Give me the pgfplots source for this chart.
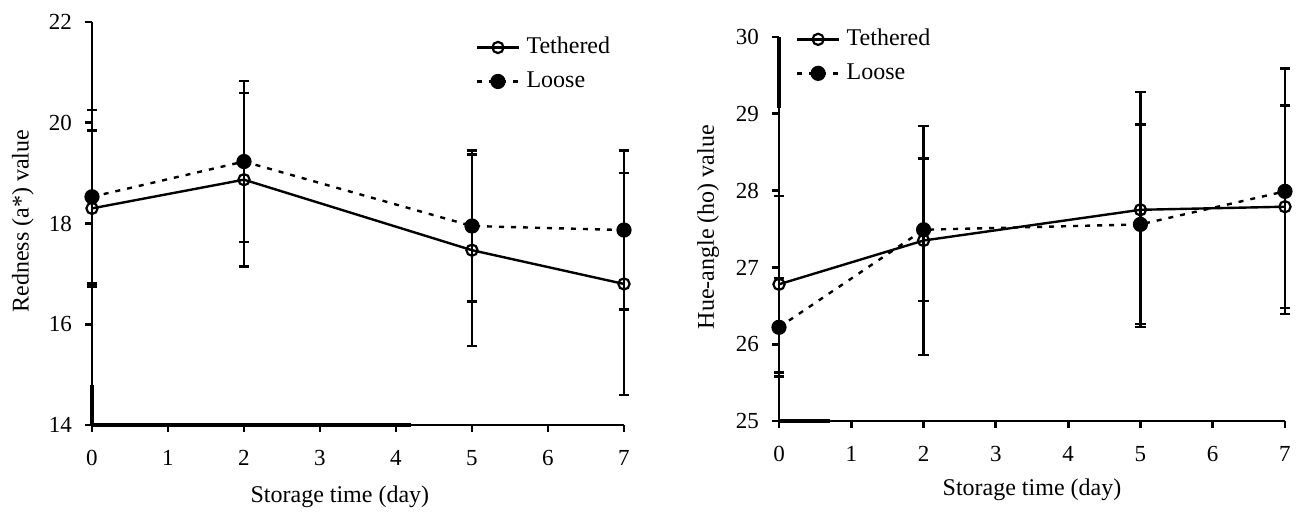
\documentclass[border=0pt]{standalone}
\usepackage{fontspec}
\setmainfont{Liberation Serif}
\usepackage{pgfplots}
\pgfplotsset{compat=1.18}

\pgfplotsset{
 myax/.style={
  scale only axis,
  axis x line=bottom, axis y line=left,
  axis line style={line width=1.4pt, -},
  tick align=outside, major tick length=3.5pt,
  tick style={line width=1.4pt, black},
  xmin=0, xmax=7, xtick={0,...,7},
  clip=false,
  /pgf/number format/assume math mode=true,
  ticklabel style={font=\fontsize{11.5}{13}\selectfont},
  xticklabel style={yshift=-5.5pt},
  yticklabel style={xshift=-3pt},
  label style={font=\fontsize{12}{14}\selectfont},
  legend style={draw=none, fill=none, font=\fontsize{12}{14}\selectfont, row sep=2pt, column sep=1pt, anchor=north west, inner sep=0pt, nodes={inner sep=2pt, text height=8.5pt, text depth=2.5pt}},
  legend cell align=left,
  legend image code/.code={\draw[mark repeat=2, mark phase=2] plot coordinates {(0cm,0cm) (0.375cm,0cm) (0.75cm,0cm)};},
  error bars/y dir=both, error bars/y explicit,
  error bars/error mark options={rotate=90, mark size=2.6pt, line width=1.2pt, solid},
  error bars/error bar style={line width=1.2pt, solid},
 },
 teth/.style={black, line width=1.2pt, mark=o, mark size=2.8pt, mark options={solid, fill=white, line width=1.1pt}},
 loose/.style={black, line width=1.2pt, dash pattern=on 2.5pt off 3.5pt, mark=*, mark size=3.2pt, mark options={solid}},
}

\begin{document}
\begin{tikzpicture}
\useasboundingbox (0,0) rectangle (648.5pt,256pt);
% Left panel
\begin{axis}[myax,
  at={(46pt,43.5pt)}, anchor=south west,
  width=266pt, height=201.5pt,
  ymin=14, ymax=22, ytick={14,16,18,20,22},
  ylabel={Redness (a*) value},
  ylabel style={at={(axis description cs:-0.13,0.506)}, anchor=center},
  xlabel={Storage time (day)},
  xlabel style={at={(axis description cs:0.466,-0.179)}, anchor=center},
  legend style={at={(axis description cs:0.72,0.975)}},
]
\addplot+[teth] coordinates {(0,18.30) +- (0,1.55) (2,18.87) +- (0,1.72) (5,17.47) +- (0,1.90) (7,16.80) +- (0,2.20)};
\addlegendentry{Tethered}
\addplot+[loose] coordinates {(0,18.53) +- (0,1.72) (2,19.23) +- (0,1.60) (5,17.95) +- (0,1.50) (7,17.87) +- (0,1.58)};
\addlegendentry{Loose}
\draw[line width=2.2pt] (axis cs:0,14) -- (axis cs:4.2,14);
\draw[line width=2.2pt] (axis cs:0,14) -- (axis cs:0,14.8);
\end{axis}
% Right panel
\begin{axis}[myax,
  at={(389.5pt,45.5pt)}, anchor=south west,
  width=253pt, height=192pt,
  ymin=25, ymax=30, ytick={25,...,30},
  ylabel={Hue-angle (ho) value},
  ylabel style={at={(axis description cs:-0.14,0.505)}, anchor=center},
  xlabel={Storage time (day)},
  xlabel style={at={(axis description cs:0.5,-0.18)}, anchor=center},
  legend style={at={(axis description cs:0.032,1.034)}},
]
\addplot+[teth] coordinates {(0,26.78) +- (0,1.15) (2,27.35) +- (0,1.49) (5,27.75) +- (0,1.53) (7,27.79) +- (0,1.32)};
\addlegendentry{Tethered}
\addplot+[loose] coordinates {(0,26.22) +- (0,0.64) (2,27.49) +- (0,0.93) (5,27.56) +- (0,1.30) (7,27.99) +- (0,1.60)};
\addlegendentry{Loose}
\draw[line width=2.2pt] (axis cs:0,25) -- (axis cs:0.7,25);
\draw[line width=2.2pt] (axis cs:0,29.07) -- (axis cs:0,30);
\end{axis}
\end{tikzpicture}
\end{document}
